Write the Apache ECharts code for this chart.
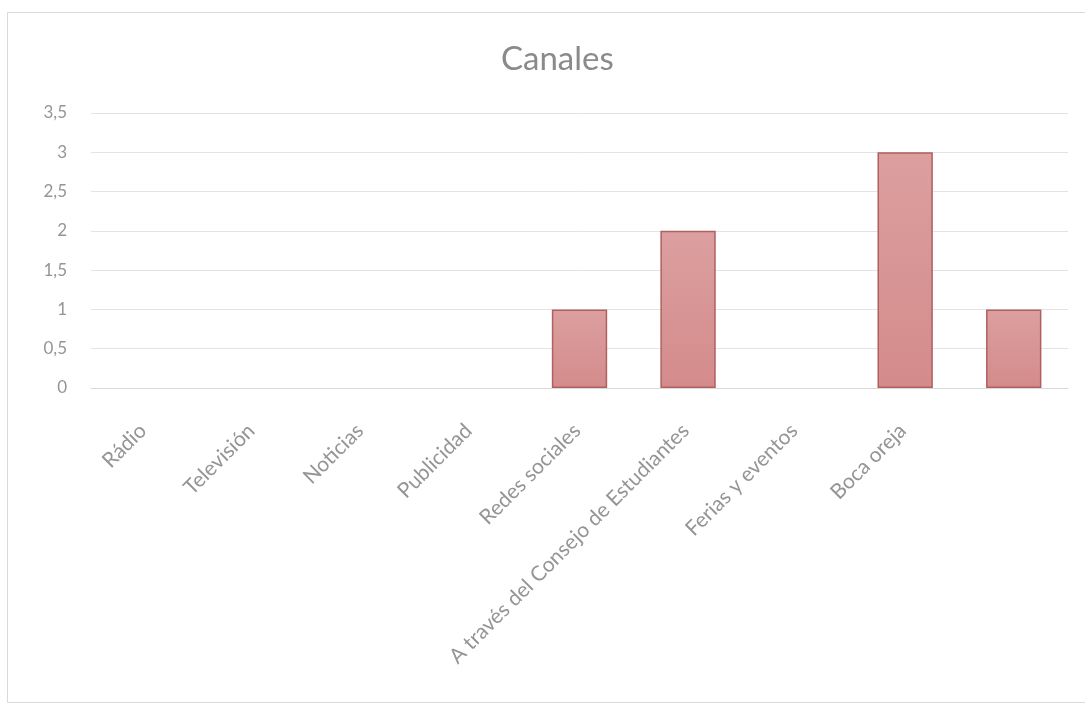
<!DOCTYPE html>
<html><head><meta charset="utf-8">
<script src="https://cdn.jsdelivr.net/npm/echarts@6/dist/echarts.min.js"></script>
<style>html,body{margin:0;padding:0;background:#fff}#c{width:1085px;height:704px}</style>
</head><body><div id="c"></div>
<script>
const categories = ['Rádio','Televisión','Noticias','Publicidad','Redes sociales','A través del Consejo de Estudiantes','Ferias y eventos','Boca oreja',''];
const values = [0,0,0,0,1,2,0,3,1];
const yTicks = {min:0, max:3.5, interval:0.5};
const titleText = 'Canales';

const chart = echarts.init(document.getElementById('c'));
chart.setOption({
  backgroundColor:'#ffffff',
  animation:false,
  graphic:[{type:'rect',shape:{x:7.5,y:12.5,width:1090,height:690},style:{fill:'none',stroke:'#d9d9d9',lineWidth:1},silent:true}],
  title:{text:titleText,left:496,top:38,textStyle:{fontFamily:'Lato',fontSize:33,fontWeight:'normal',color:'#8a8a8a'}},
  grid:{left:91,right:17,top:113,bottom:316,containLabel:false},
  xAxis:{type:'category',data:categories,
    axisLine:{show:true,lineStyle:{color:'#d9d9d9',width:1}},
    axisTick:{show:false},
    axisLabel:{interval:0,rotate:45,margin:22,verticalAlign:'top',padding:[0,14,0,0],color:'#959595',fontFamily:'Lato',fontSize:21}},
  yAxis:{type:'value',min:yTicks.min,max:yTicks.max,interval:yTicks.interval,
    axisLine:{show:false},axisTick:{show:false},
    splitLine:{lineStyle:{color:'#e3e3e3',width:1}},
    axisLabel:{margin:24,color:'#959595',fontFamily:'Lato',fontSize:17,
      formatter:v=>String(v).replace('.',',')}},
  series:[{type:'bar',barCategoryGap:'49%',
    data:values.map(v=>({value:v,itemStyle:v===0?{borderWidth:0,opacity:0}:{}})),
    itemStyle:{color:new echarts.graphic.LinearGradient(0,0,0,1,[{offset:0,color:'#dc9f9f'},{offset:1,color:'#d48b8b'}]),
      borderColor:'#b0605f',borderWidth:1.5}}]
});
</script></body></html>
